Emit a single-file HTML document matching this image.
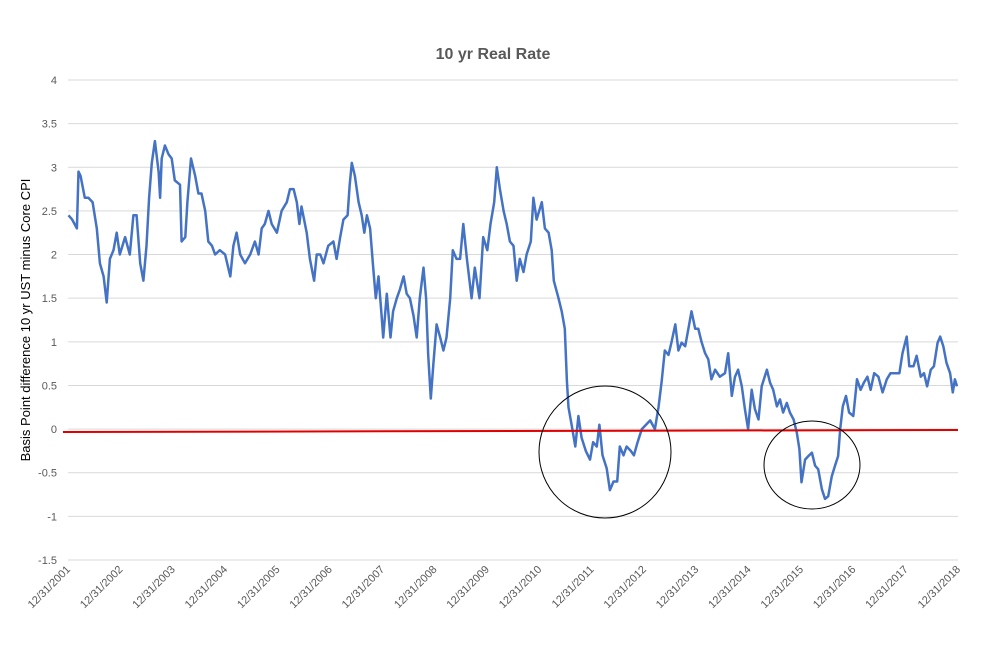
<!DOCTYPE html>
<html><head><meta charset="utf-8"><style>
html,body{margin:0;padding:0;background:#fff;}
svg{display:block;font-family:"Liberation Sans",sans-serif;}
</style></head><body>
<svg id="chart" width="997" height="647" viewBox="0 0 997 647">
<text x="493" y="59" text-anchor="middle" font-size="16" font-weight="bold" fill="#595959">10 yr Real Rate</text>
<text transform="translate(30,320) rotate(-90)" text-anchor="middle" font-size="13" fill="#000">Basis Point difference 10 yr UST minus Core CPI</text>
<g id="grid"></g>
<g id="yticks"></g>
<g id="xticks"></g>
<path id="series" fill="none" stroke="#4472c4" stroke-width="2.5" stroke-linejoin="round"/>
<line x1="63" y1="432" x2="958" y2="430" stroke="#e00000" stroke-width="2"/>
<ellipse cx="605" cy="452" rx="66" ry="66" fill="none" stroke="#000" stroke-width="1"/>
<ellipse cx="812" cy="465" rx="48" ry="44" fill="none" stroke="#000" stroke-width="1"/>
</svg>
<script>
const yTicks=[4,3.5,3,2.5,2,1.5,1,0.5,0,-0.5,-1,-1.5];
const xLabels=["12/31/2001","12/31/2002","12/31/2003","12/31/2004","12/31/2005","12/31/2006","12/31/2007","12/31/2008","12/31/2009","12/31/2010","12/31/2011","12/31/2012","12/31/2013","12/31/2014","12/31/2015","12/31/2016","12/31/2017","12/31/2018"];
// years since 12/31/2001
const dates=[0.01,0.08,0.17,0.20,0.24,0.32,0.39,0.47,0.55,0.61,0.68,0.74,0.80,0.87,0.93,0.99,1.09,1.18,1.25,1.31,1.38,1.44,1.50,1.55,1.60,1.66,1.73,1.76,1.79,1.85,1.92,1.98,2.04,2.14,2.17,2.24,2.28,2.35,2.43,2.49,2.55,2.62,2.68,2.75,2.81,2.90,3.00,3.10,3.16,3.22,3.29,3.38,3.48,3.57,3.64,3.70,3.76,3.83,3.89,3.99,4.08,4.18,4.24,4.31,4.37,4.42,4.46,4.56,4.62,4.70,4.75,4.82,4.88,4.97,5.07,5.13,5.20,5.26,5.34,5.38,5.42,5.48,5.55,5.61,5.66,5.71,5.77,5.83,5.88,5.93,5.99,6.02,6.09,6.16,6.21,6.28,6.34,6.41,6.47,6.53,6.60,6.66,6.72,6.79,6.84,6.88,6.93,6.98,7.04,7.11,7.17,7.23,7.30,7.35,7.42,7.49,7.55,7.62,7.71,7.77,7.86,7.93,8.01,8.07,8.14,8.19,8.25,8.32,8.38,8.44,8.51,8.57,8.63,8.70,8.76,8.84,8.89,8.95,9.05,9.11,9.18,9.24,9.28,9.37,9.43,9.49,9.53,9.56,9.62,9.69,9.75,9.81,9.89,9.97,10.03,10.10,10.15,10.21,10.29,10.35,10.42,10.49,10.54,10.61,10.67,10.75,10.81,10.88,10.96,11.04,11.12,11.21,11.28,11.34,11.40,11.47,11.53,11.60,11.66,11.72,11.79,11.85,11.91,11.98,12.04,12.10,12.17,12.23,12.29,12.36,12.45,12.55,12.61,12.68,12.74,12.80,12.87,12.93,12.99,13.06,13.12,13.19,13.25,13.35,13.41,13.47,13.54,13.60,13.66,13.73,13.79,13.86,13.92,13.97,14.01,14.08,14.14,14.21,14.27,14.33,14.40,14.46,14.52,14.59,14.65,14.71,14.75,14.80,14.86,14.92,15.00,15.07,15.14,15.20,15.27,15.33,15.40,15.48,15.56,15.64,15.71,15.80,15.88,15.94,16.02,16.07,16.15,16.21,16.29,16.35,16.41,16.48,16.54,16.61,16.66,16.72,16.78,16.85,16.90,16.94,16.98];
const values=[2.45,2.4,2.3,2.95,2.9,2.65,2.65,2.6,2.3,1.9,1.75,1.45,1.95,2.05,2.25,2.0,2.2,2.0,2.45,2.45,1.9,1.7,2.1,2.65,3.05,3.3,2.95,2.65,3.1,3.25,3.15,3.1,2.85,2.8,2.15,2.2,2.6,3.1,2.9,2.7,2.7,2.5,2.15,2.1,2.0,2.05,2.0,1.75,2.1,2.25,2.0,1.9,2.0,2.15,2.0,2.3,2.35,2.5,2.35,2.25,2.5,2.6,2.75,2.75,2.6,2.35,2.55,2.25,1.95,1.7,2.0,2.0,1.9,2.1,2.15,1.95,2.2,2.4,2.45,2.8,3.05,2.9,2.6,2.45,2.25,2.45,2.3,1.85,1.5,1.75,1.3,1.05,1.55,1.05,1.35,1.5,1.6,1.75,1.55,1.5,1.3,1.05,1.5,1.85,1.5,0.85,0.35,0.75,1.2,1.05,0.9,1.05,1.5,2.05,1.95,1.95,2.35,1.95,1.5,1.85,1.5,2.2,2.05,2.35,2.6,3.0,2.75,2.5,2.35,2.15,2.1,1.7,1.95,1.8,2.0,2.15,2.65,2.4,2.6,2.3,2.25,2.05,1.7,1.5,1.35,1.15,0.55,0.25,0.05,-0.2,0.15,-0.1,-0.25,-0.35,-0.15,-0.2,0.05,-0.3,-0.45,-0.7,-0.6,-0.6,-0.2,-0.3,-0.2,-0.25,-0.3,-0.15,0.0,0.05,0.1,0.0,0.25,0.55,0.9,0.85,1.0,1.2,0.9,0.99,0.95,1.15,1.35,1.15,1.15,1.0,0.87,0.8,0.57,0.68,0.6,0.64,0.87,0.38,0.6,0.68,0.49,0.23,0.0,0.45,0.23,0.11,0.49,0.68,0.53,0.45,0.26,0.34,0.19,0.3,0.19,0.11,-0.04,-0.23,-0.61,-0.35,-0.31,-0.27,-0.42,-0.46,-0.69,-0.8,-0.77,-0.54,-0.42,-0.31,0.0,0.26,0.38,0.19,0.15,0.57,0.45,0.53,0.6,0.45,0.64,0.6,0.42,0.57,0.64,0.64,0.64,0.87,1.06,0.72,0.72,0.84,0.6,0.64,0.49,0.68,0.72,0.99,1.06,0.95,0.76,0.64,0.42,0.57,0.49];

const X0=68,X1=958,Y4=80,Yb=560,ymax=4,ymin=-1.5,span=17;
const xs=t=>X0+(X1-X0)*t/span;
const ys=v=>Y4+(ymax-v)*(Yb-Y4)/(ymax-ymin);
const NS="http://www.w3.org/2000/svg";
const grid=document.getElementById('grid'),yt=document.getElementById('yticks'),xt=document.getElementById('xticks');
yTicks.forEach(v=>{
  const l=document.createElementNS(NS,'line');
  l.setAttribute('x1',X0);l.setAttribute('x2',X1);l.setAttribute('y1',ys(v));l.setAttribute('y2',ys(v));
  l.setAttribute('stroke','#d9d9d9');l.setAttribute('stroke-width','1');
  
  
  grid.appendChild(l);
  const t=document.createElementNS(NS,'text');
  t.setAttribute('x',57);t.setAttribute('y',ys(v)+4);t.setAttribute('text-anchor','end');
  t.setAttribute('font-size','11');t.setAttribute('fill','#595959');t.textContent=v;
  
  
  yt.appendChild(t);
});
xLabels.forEach((s,i)=>{
  const x=xs(i),y=570;
  const t=document.createElementNS(NS,'text');
  t.setAttribute('transform','translate('+(x+3)+','+y+') rotate(-45)');
  t.setAttribute('text-anchor','end');t.setAttribute('font-size','11');t.setAttribute('fill','#595959');
  t.textContent=s;
  
  
  xt.appendChild(t);
});
let d='';
dates.forEach((t,i)=>{d+=(i?'L':'M')+xs(t).toFixed(1)+','+ys(values[i]).toFixed(1);});
document.getElementById('series').setAttribute('d',d);
</script>
</body></html>
